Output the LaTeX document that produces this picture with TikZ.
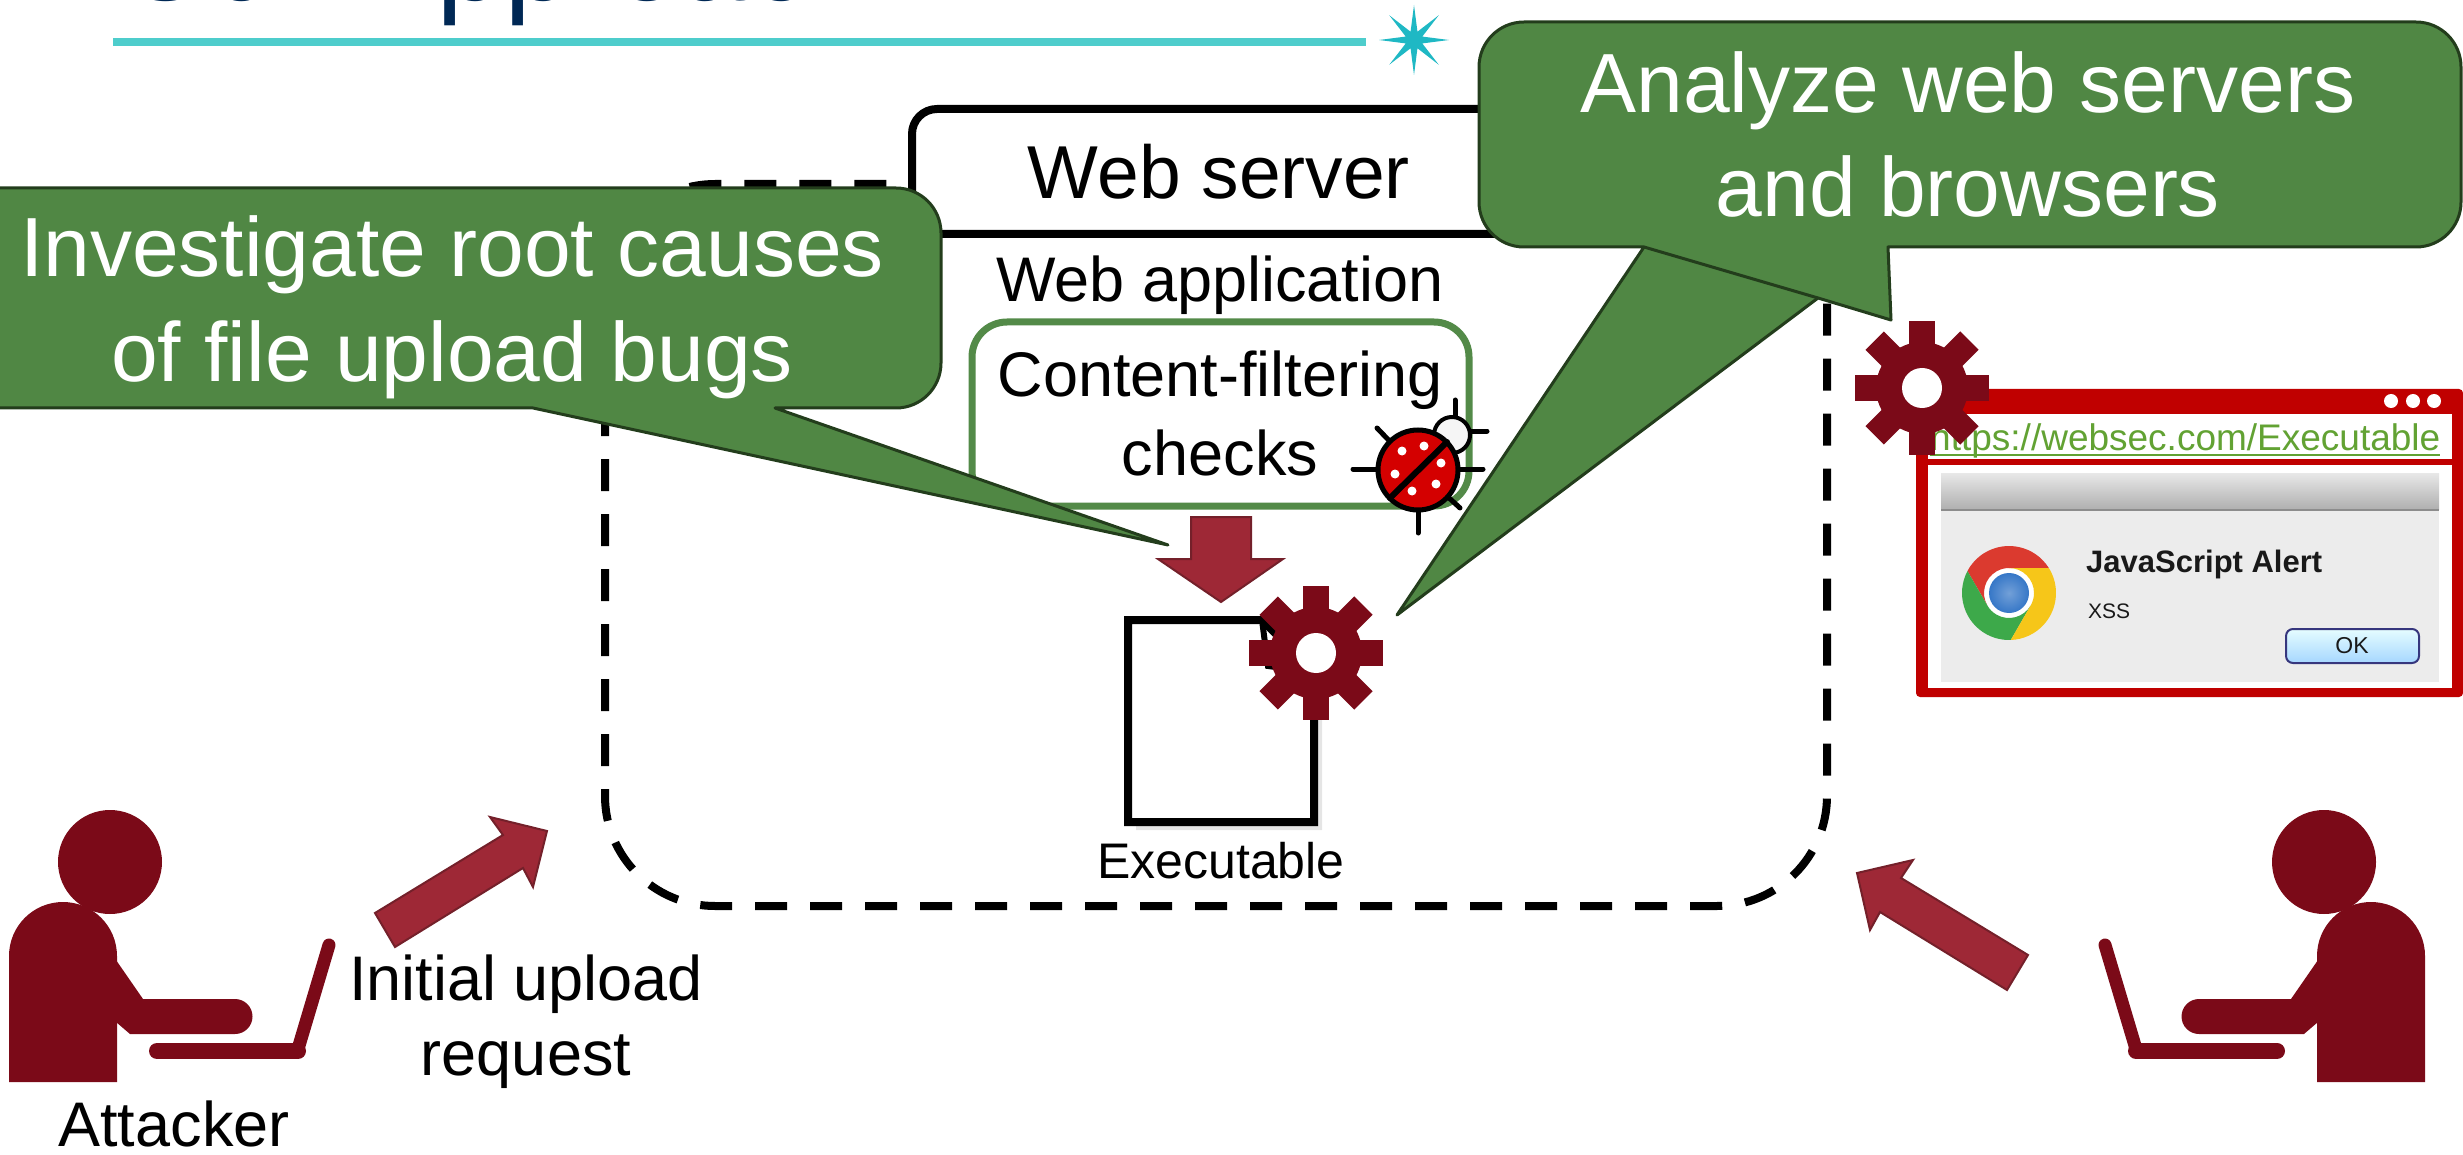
\documentclass[tikz,border=0pt]{standalone}
\usepackage{fontspec}
\setmainfont{Liberation Sans}
\usetikzlibrary{shapes.geometric,calc}

\definecolor{navy}{HTML}{002855}
\definecolor{tealline}{HTML}{4ECDCC}
\definecolor{tealstar}{HTML}{1FB8C4}
\definecolor{calloutgreen}{HTML}{508744}
\definecolor{calloutedge}{HTML}{233D1C}
\definecolor{boxgreen}{HTML}{538A48}
\definecolor{gearred}{HTML}{7B0A18}
\definecolor{arrowred}{HTML}{9E2836}
\definecolor{arrowedge}{HTML}{74202A}
\definecolor{framered}{HTML}{C00000}
\definecolor{urlgreen}{HTML}{62A233}
\definecolor{bugred}{HTML}{D40000}
\definecolor{chromered}{HTML}{DB3A2F}
\definecolor{chromegreen}{HTML}{3DA94A}
\definecolor{chromeyellow}{HTML}{F6C619}
\definecolor{chromeblue}{HTML}{3677C7}
\definecolor{panelgray}{HTML}{ECECEC}

\newcommand{\fsz}[2]{\fontsize{#1}{#2}\selectfont}

% multi-line labels are placed by the baseline of their last line
\tikzset{
  lbl/.style={inner sep=0pt, anchor=base, align=center},
  callout/.style={fill=calloutgreen, draw=calloutedge, line width=3pt, line join=round},
  blockarrow/.style={fill=arrowred, draw=arrowedge, line width=2pt, line join=miter},
  gear/.pic={
    \fill[gearred] (0,0) circle[radius=46];
    \foreach \a in {0,45,...,315}{\fill[gearred,rotate=\a] (-13,0) rectangle (13,67);}
    \fill[white] (0,0) circle[radius=20];
  },
  person/.pic={
    \fill[gearred] (110,862) circle[radius=52];
    \fill[gearred] (9,1082) -- (9,956) arc[start angle=180,end angle=360,radius=54] -- (117,1082) -- cycle;
    \fill[gearred] (116,960) -- (143,999) -- (235,999) arc[start angle=270,end angle=450,radius=17.5] -- (130,1034) -- (116,1022) -- cycle;
    \draw[gearred,line width=13pt,line cap=round] (329,945) -- (298,1049);
    \draw[gearred,line width=16pt,line cap=round] (298,1051) -- (157,1051);
  }
}

\begin{document}
\begin{tikzpicture}[x=1pt,y=-1pt]
\useasboundingbox (0,0) rectangle (2463,1155);
\clip (0,0) rectangle (2463,1155);

% slide heading, running off the top edge
\node[anchor=base west, inner sep=0pt, text=navy, font={\fsz{122}{140}}] (title) at (118,1) {Our Approach};
\draw[tealline, line width=8pt] (113,42) -- (1366,42);
\node[star, star points=8, star point ratio=3.9, fill=tealstar, minimum size=70pt, inner sep=0pt] (spark) at (1414,40) {};

% server boundary
\draw[line width=8pt, dash pattern=on 32pt off 23pt, rounded corners=110pt] (605,184) rectangle (1827,906);

% web server header
\draw[line width=8pt, fill=white, rounded corners=25pt] (912,109) rectangle (1530,234);
\node[lbl, font={\fsz{75}{90}}] (websrv) at (1219,199) {Web server};
\node[lbl, font={\fsz{63}{76}}] (webapp) at (1220,302) {Web application};

% content filtering box
\draw[boxgreen, line width=7pt, fill=white, rounded corners=35pt] (972,322) rectangle (1469,506);
\node[lbl, font={\fsz{63}{78}}] (filter) at (1220,475) {Content-filtering\\checks};

% ladybug
\begin{scope}[line cap=round]
  \draw[black, line width=5pt] (1455,432) -- (1455,400);
  \draw[black, line width=5pt] (1450,431) -- (1487,431);
  \draw[black, line width=5pt] (1400,452) -- (1377,428);
  \draw[black, line width=5pt] (1400,469) -- (1353,469);
  \draw[black, line width=5pt] (1440,469) -- (1483,469);
  \draw[black, line width=5pt] (1435,485) -- (1460,508);
  \draw[black, line width=5pt] (1418,490) -- (1418,533);
  \filldraw[fill=gray!8, draw=black, line width=4pt] (1452,435) circle[radius=18];
  \filldraw[fill=bugred, draw=black, line width=5pt] (1418,470) circle[radius=40];
  \draw[black, line width=6pt] (1390,498) -- (1447,442);
  \foreach \p in {(1402,451),(1424,446),(1441,463),(1395,474),(1436,484),(1412,491)}
    \fill[white] \p circle[radius=4.5];
\end{scope}

% filtering step arrow
\draw[blockarrow] (1191,517) -- (1251,517) -- (1251,559) -- (1283,559) -- (1221,602) -- (1158,559) -- (1191,559) -- cycle;

% uploaded executable
\fill[black, opacity=0.10] (1136,628) -- (1270,628) -- (1322,680) -- (1322,830) -- (1136,830) -- cycle;
\fill[black, opacity=0.10] (1132,624) -- (1266,624) -- (1318,676) -- (1318,826) -- (1132,826) -- cycle;
\draw[line width=8pt, fill=white, line join=miter] (1128,620) -- (1262,620) -- (1314,672) -- (1314,822) -- (1128,822) -- cycle;
\draw[line width=6pt] (1262,620) -- (1268,666) -- (1314,672);
\node[lbl, font={\fsz{50}{60}}] (execlbl) at (1221,878) {Executable};
\pic at (1316,653) {gear};

% browser window
\fill[framered, rounded corners=4pt] (1916,389) rectangle (2463,697);
\fill[white] (1928,414) rectangle (2452,459);
\fill[white] (1928,465) rectangle (2452,688);
\foreach \x in {2391,2413,2434} \fill[white] (\x,401) circle[radius=7];
\node[anchor=base west, inner sep=0pt, text=urlgreen, font={\fsz{37}{44}}] (url) at (1930,450) {https://websec.com/Executable};
\draw[urlgreen, line width=2.5pt] ([yshift=-5pt]url.base west) -- ([yshift=-5pt]url.base east);

% alert dialog
\fill[panelgray] (1941,473) rectangle (2439,682);
\shade[top color=gray!18, bottom color=gray!62] (1941,473) rectangle (2439,509);
\draw[gray!110!black, line width=2pt] (1941,510) -- (2439,510);
\begin{scope}[shift={(2009,593)}, yscale=-1]
  \fill[white] (0,0) circle[radius=26];
  \fill[chromered] (0,25) -- (39.8,25) arc[start angle=32.14, end angle=152.14, radius=47] -- (-21.65,-12.5) arc[start angle=210, end angle=90, radius=25] -- cycle;
  \fill[chromegreen] (-41.55,21.97) arc[start angle=152.14, end angle=272.14, radius=47] -- (21.65,-12.5) arc[start angle=330, end angle=210, radius=25] -- cycle;
  \fill[chromeyellow] (1.75,-46.97) arc[start angle=272.14, end angle=392.14, radius=47] -- (0,25) arc[start angle=90, end angle=-30, radius=25] -- cycle;
  \shade[inner color=chromeblue!70!white, outer color=chromeblue] (0,0) circle[radius=20];
\end{scope}
\node[anchor=base west, inner sep=0pt, text=black!90, font={\bfseries\fsz{31}{36}}] (alerttitle) at (2086,572) {JavaScript Alert};
\node[anchor=base west, inner sep=0pt, text=black!90, font={\fsz{21}{25}}] (alertmsg) at (2088,618) {XSS};
\shade[top color=blue!8!cyan!10!white, bottom color=blue!45!cyan!35!white, draw=gray!60!blue!70!black, line width=2pt, rounded corners=7pt] (2286,629) rectangle (2419,663);
\node[lbl, font={\fsz{23}{28}}, text=black!90] (okbtn) at (2352,653) {OK};
\pic at (1922,388) {gear};

% requests
\draw[blockarrow] (375,913) -- (503,835) -- (490,817) -- (547,831) -- (533,887) -- (523,868) -- (395,947) -- cycle;
\draw[blockarrow] (1857,873) -- (1913,860) -- (1901,878) -- (2028,955) -- (2007,990) -- (1880,912) -- (1870,930) -- cycle;

% people
\pic at (0,0) {person};
\pic[xscale=-1] at (2434,0) {person};
\node[lbl, font={\fsz{63}{75}}] (attacker) at (174,1146) {Attacker};
\node[lbl, font={\fsz{63}{75}}] (upload) at (526,1075) {Initial upload\\request};

% callouts
\draw[callout] (-60,188) -- (896,188) arc[start angle=270, end angle=360, radius=45] -- (941,363) arc[start angle=0, end angle=90, radius=45] -- (775,408) -- (1168,545) -- (533,408) -- (-60,408) -- cycle;
\node[lbl, text=white, font={\fsz{84}{105}}] (rootcause) at (452,382) {Investigate root causes\\of file upload bugs};

\draw[callout] (1524,22) -- (2416,22) arc[start angle=270, end angle=360, radius=45] -- (2461,202) arc[start angle=0, end angle=90, radius=45] -- (1888,247) -- (1891,320) -- (1818,298) -- (1397,615) -- (1644,247) -- (1524,247) arc[start angle=90, end angle=180, radius=45] -- (1479,67) arc[start angle=180, end angle=270, radius=45] -- cycle;
\draw[calloutedge, line width=3pt] (1644,247) -- (1818,298);
\node[lbl, text=white, font={\fsz{84}{104}}] (analyze) at (1968,217) {Analyze web servers\\and browsers};

\end{tikzpicture}
\end{document}
